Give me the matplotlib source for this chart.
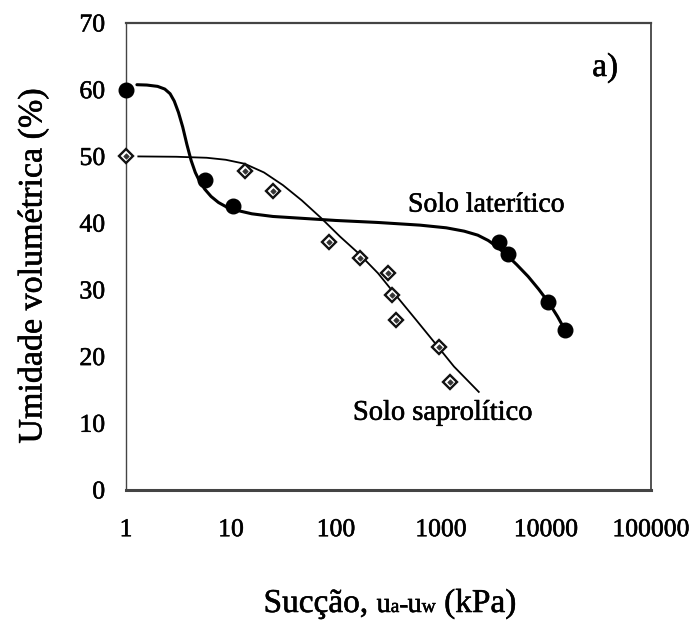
import numpy as np
import matplotlib
matplotlib.use("Agg")
import matplotlib.pyplot as plt
import matplotlib.patheffects as pe

plt.rcParams['font.family'] = ['Liberation Serif', 'DejaVu Serif']

# Measured points: laterite soil (filled circles)
lat_suction = [1.0, 5.6, 10.5, 3550, 4370, 10500, 15200]
lat_theta = [60.0, 46.5, 42.5, 37.2, 35.3, 28.2, 24.0]

# Measured points: saprolite soil (open diamonds)
sap_suction = [1.0, 13.5, 25.3, 86.6, 169, 316, 339, 373, 955, 1230]
sap_theta = [50.0, 47.8, 44.8, 37.2, 34.8, 32.6, 29.3, 25.5, 21.5, 16.2]

# Fitted retention curve, laterite soil
lat_fit_suction = [1.27, 1.58, 2.0, 2.34, 2.63, 2.88, 3.16, 3.47, 3.80, 4.17,
                   4.57, 5.01, 5.62, 6.46, 7.59, 9.12, 11.5, 15.8, 25.1, 50.1,
                   100, 251, 631, 1122, 1660, 2239, 2818, 3388, 4169, 5248,
                   6761, 8511, 10720, 12880, 15140]
lat_fit_theta = [60.75, 60.7, 60.5, 60.1, 59.4, 58.3, 56.6, 54.4, 51.8, 49.4,
                 47.6, 46.3, 45.1, 44.0, 43.1, 42.4, 41.9, 41.4, 41.0, 40.7,
                 40.4, 40.1, 39.7, 39.3, 38.8, 38.2, 37.4, 36.5, 35.3, 33.8,
                 32.0, 30.1, 28.0, 26.0, 24.0]

# Fitted retention curve, saprolite soil
sap_fit_suction = [1.31, 3.01, 5.87, 8.91, 13.5, 20.6, 31.2, 47.3, 71.8, 109,
                   166, 251, 380, 579, 879, 1330, 2290]
sap_fit_theta = [50.0, 49.95, 49.8, 49.5, 48.9, 47.6, 45.7, 43.4, 40.8, 38.0,
                 35.4, 32.5, 29.0, 25.5, 22.0, 18.5, 14.7]

x_ticks = [1, 10, 100, 1000, 10000, 100000]
x_tick_labels = ['1', '10', '100', '1000', '10000', '100000']
y_ticks = [0, 10, 20, 30, 40, 50, 60, 70]

ink = [pe.withStroke(linewidth=0.4, foreground='black')]

W, H = 697, 621
fig = plt.figure(figsize=(W / 100, H / 100), dpi=100)
ax = fig.add_axes([126 / W, (H - 490) / H, 525 / W, 467 / H])

ax.plot(lat_fit_suction, lat_fit_theta, color='black', lw=2.2,
        solid_capstyle='round', solid_joinstyle='round', zorder=2)
ax.plot(sap_fit_suction, sap_fit_theta, color='black', lw=1.3,
        solid_joinstyle='round', zorder=2)

ax.plot(lat_suction, lat_theta, linestyle='none', marker='o', ms=10.5,
        mfc='black', mec='black', clip_on=False, zorder=4)
ax.plot(sap_suction, sap_theta, linestyle='none', marker='D', ms=7,
        mfc='white', mec='#111111', mew=1.7, clip_on=False, zorder=4)
ax.plot(sap_suction, sap_theta, linestyle='none', marker='D', ms=2.8,
        mfc='#333333', mec='#333333', mew=0.5, clip_on=False, zorder=5)

ax.set_xscale('log')
ax.set_xlim(1, 100000)
ax.set_ylim(0, 70)
ax.set_xticks(x_ticks)
ax.set_xticklabels(x_tick_labels)
ax.set_yticks(y_ticks)
ax.minorticks_off()
ax.tick_params(axis='x', length=0, pad=21, labelsize=18.5)
ax.tick_params(axis='y', length=0, pad=15, labelsize=18.5)
for lbl in ax.get_xticklabels() + ax.get_yticklabels():
    lbl.set_path_effects(ink)

ax.spines['left'].set_linewidth(1.0)
ax.spines['right'].set_linewidth(1.3)
ax.spines['top'].set_linewidth(1.6)
ax.spines['bottom'].set_linewidth(2.2)
for side in ['left', 'top', 'right', 'bottom']:
    ax.spines[side].set_color('#444444')

ax.text(485, 42.7, 'Solo laterítico', fontsize=20, va='center', ha='left',
        path_effects=ink)
ax.text(145, 11.5, 'Solo saprolítico', fontsize=20.5, va='center',
        ha='left', path_effects=ink)
ax.text(0.888, 0.904, 'a)', transform=ax.transAxes, fontsize=24,
        va='center', ha='left', path_effects=ink)

fig.text(33 / W, 1 - 266 / H, 'Umidade volumétrica (%)', rotation=90,
         fontsize=24.5, ha='center', va='center', path_effects=ink)

# x-axis title with reduced-size subscript letters kept on the baseline
runs = [('Sucção, ', 24), ('u', 20.5), ('a', 14), ('-', 18), ('u', 20.5),
        ('w', 14), (' (kPa)', 24)]
renderer = fig.canvas.get_renderer()
texts = []
widths = []
for s, size in runs:
    t = fig.text(0, 1 - 612 / H, s, fontsize=size, ha='left',
                 va='baseline', path_effects=ink)
    texts.append(t)
    widths.append(t.get_window_extent(renderer).width)
total = sum(widths)
x = 390 - total / 2
for t, w in zip(texts, widths):
    t.set_x(x / W)
    x += w

fig.savefig('out.png', dpi=100)
